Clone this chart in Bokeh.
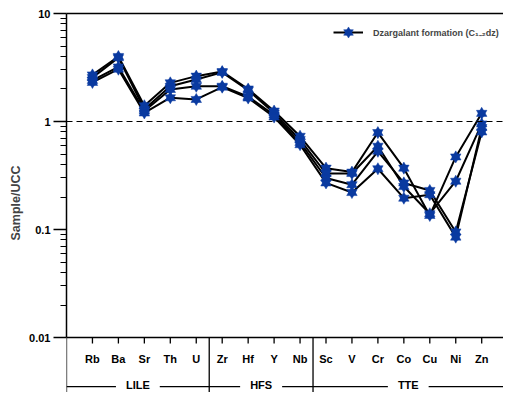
import math
from bokeh.plotting import figure
from bokeh.models import (Range1d, FixedTicker, CustomJSTickFormatter, Span, LinearAxis,
                          Legend, LegendItem, ColumnDataSource)
from bokeh.core.properties import value
from bokeh.embed import file_html
from bokeh.resources import INLINE

# ---------------- data ----------------
elements = ["Rb", "Ba", "Sr", "Th", "U", "Zr", "Hf", "Y", "Nb",
            "Sc", "V", "Cr", "Co", "Cu", "Ni", "Zn"]
sample_1 = [2.70, 4.00, 1.40, 2.28, 2.63, 2.90, 2.00, 1.25, 0.73, 0.37, 0.34, 0.79, 0.37, 0.135, 0.47, 1.19]
sample_2 = [2.55, 3.90, 1.30, 2.12, 2.45, 2.85, 1.95, 1.20, 0.68, 0.33, 0.33, 0.59, 0.25, 0.140, 0.28, 0.95]
sample_3 = [2.40, 3.20, 1.25, 1.98, 2.12, 2.12, 1.70, 1.15, 0.64, 0.30, 0.26, 0.53, 0.27, 0.230, 0.095, 0.80]
sample_4 = [2.30, 3.05, 1.20, 1.66, 1.60, 2.08, 1.65, 1.10, 0.61, 0.27, 0.22, 0.365, 0.195, 0.210, 0.085, 0.88]
samples = [sample_1, sample_2, sample_3, sample_4]

groups = ["LILE", "HFS", "TTE"]
group_bounds = [0, 5.5, 9.5, 16.84]          # separators between element groups (x index units)
y_ticks = [0.01, 0.1, 1, 10]
legend_label = "Dzargalant formation (C\u2081\u208b\u2082dz)"

FONT = "Liberation Sans"
BLUE = "#0a3aa0"

x_idx = list(range(1, len(elements) + 1))
Y_LO = 10 ** -2.509
Y_AX = 0.01
Y_GRP_LINE = 10 ** -2.454
Y_GRP_TEXT = 10 ** -2.435

p = figure(width=503, height=392, y_axis_type="log",
           x_range=Range1d(0, group_bounds[-1]), y_range=Range1d(Y_LO, 10),
           output_backend="svg", toolbar_location=None,
           x_axis_location=None,
           min_border_left=66, min_border_top=13, min_border_right=0, min_border_bottom=0)
p.outline_line_color = None
p.xgrid.visible = False
p.ygrid.visible = False
p.background_fill_color = "white"

# ---- y axis ----
yax = p.yaxis[0]
minor = [m * 10 ** e for e in range(-2, 1) for m in range(2, 10)]
yax.ticker = FixedTicker(ticks=y_ticks, minor_ticks=minor)
yax.formatter = CustomJSTickFormatter(code="return tick >= 1 ? tick.toFixed(0) : tick.toString();")
yax.bounds = (Y_AX, 10)
yax.axis_line_width = 1.5
yax.axis_line_color = "black"
yax.major_tick_in = 0
yax.major_tick_out = 13
yax.minor_tick_in = 0
yax.minor_tick_out = 6
yax.major_tick_line_width = 1.3
yax.minor_tick_line_width = 1.1
yax.major_label_text_font = FONT
yax.major_label_text_font_style = "bold"
yax.major_label_text_font_size = "11px"
yax.major_label_text_color = "black"
yax.major_label_standoff = 3
yax.axis_label = "Sample/UCC"
yax.axis_label_text_font = FONT
yax.axis_label_text_font_style = "bold"
yax.axis_label_text_font_size = "12.5px"
yax.axis_label_standoff = 3

# top border line
top_ax = LinearAxis(ticker=FixedTicker(ticks=[]), axis_line_width=1.5,
                    major_tick_out=0, major_tick_in=0, minor_tick_out=0, minor_tick_in=0,
                    major_label_text_font_size="0px", major_label_standoff=0)
p.add_layout(top_ax, "above")

# ---- reference line at 1 ----
p.add_layout(Span(location=1, dimension="width", line_color="black",
                  line_dash="6 4", line_width=1.2))

# ---- manual x axis ----
p.segment(x0=[group_bounds[0]], y0=[Y_AX], x1=[group_bounds[-1]], y1=[Y_AX],
          line_color="black", line_width=1.5)
p.ray(x=x_idx, y=[Y_AX] * len(x_idx), length=6, length_units="screen",
      angle=-math.pi / 2, line_color="black", line_width=1.3)
p.text(x=x_idx, y=[Y_AX] * len(x_idx), text=elements, y_offset=21,
       text_align="center", text_baseline="middle",
       text_font=value(FONT), text_font_style="bold", text_font_size="11px",
       text_color="black")

# group separators and group line
sep_x = group_bounds[:-1]
p.segment(x0=sep_x, y0=[Y_AX] * len(sep_x), x1=sep_x, y1=[Y_LO] * len(sep_x),
          line_color="black", line_width=1.3)
p.segment(x0=[group_bounds[0]], y0=[Y_GRP_LINE], x1=[group_bounds[-1]], y1=[Y_GRP_LINE],
          line_color="black", line_width=1.3)
grp_x = [(group_bounds[i] + group_bounds[i + 1]) / 2 for i in range(len(groups))]
p.text(x=grp_x, y=[Y_GRP_TEXT] * len(groups), text=groups,
       text_align="center", text_baseline="middle",
       text_font=value(FONT), text_font_style="bold", text_font_size="11px",
       text_color="black", background_fill_color="white", padding=[10, 2])

# ---- data ----
line_r = None
tri_r = inv_r = None
for s in samples:
    r = p.line(x_idx, s, line_color="black", line_width=2)
    if line_r is None:
        line_r = r
for s in samples:
    src = ColumnDataSource(dict(x=x_idx, y=s))
    t = p.scatter("x", "y", source=src, marker="triangle", size=10.5,
                  fill_color=BLUE, line_color=BLUE, line_width=0.5)
    i = p.scatter("x", "y", source=src, marker="inverted_triangle", size=10.5,
                  fill_color=BLUE, line_color=BLUE, line_width=0.5)
    if tri_r is None:
        tri_r, inv_r = t, i

legend = Legend(items=[LegendItem(label=legend_label, renderers=[line_r, tri_r, inv_r])],
                location=(267, 348), padding=0, margin=0,
                glyph_width=30, glyph_height=24, label_standoff=10,
                label_text_font=FONT, label_text_font_style="bold",
                label_text_font_size="9px",
                border_line_color=None, background_fill_alpha=0)
p.add_layout(legend)

open("out.html", "w").write(file_html(p, INLINE))
